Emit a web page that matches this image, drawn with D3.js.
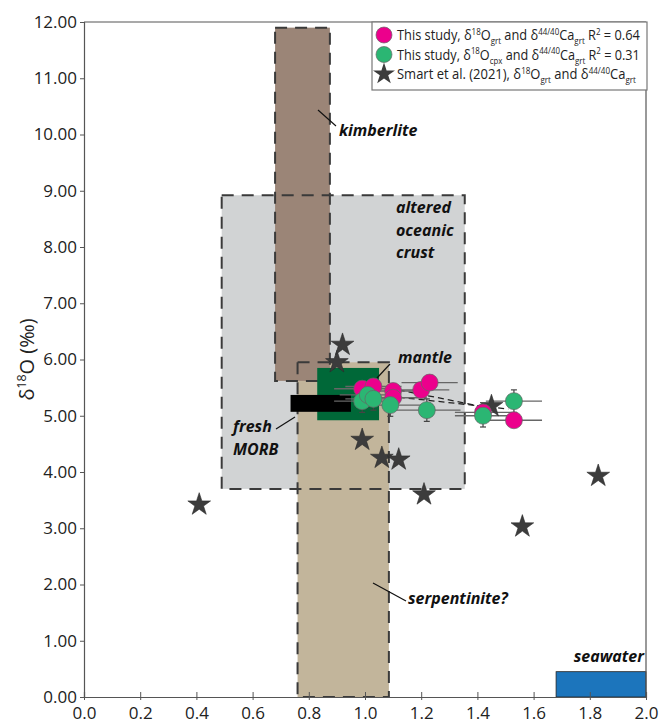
<!DOCTYPE html>
<html><head><meta charset="utf-8">
<script src="https://cdn.jsdelivr.net/npm/d3@7"></script>
<style>body{margin:0;background:#fff}svg{display:block}text{font-family:"Open Sans",sans-serif}</style>
</head><body><svg id="c" width="664" height="723"></svg>
<script>
// ---------- data ----------
const xTicks = [0.0,0.2,0.4,0.6,0.8,1.0,1.2,1.4,1.6,1.8,2.0];
const yTicks = [0,1,2,3,4,5,6,7,8,9,10,11,12];
// this study, garnet
const grtCa   = [0.99,1.03,1.10,1.10,1.20,1.23,1.42,1.53];
const grtO    = [5.48,5.52,5.44,5.32,5.46,5.59,5.06,4.92];
const grtCaErr= [0.10,0.10,0.12,0.12,0.10,0.10,0.10,0.10];
const grtOErr = [0.10,0.10,0.10,0.10,0.10,0.10,0.10,0.10];
// this study, clinopyroxene
const cpxCa   = [0.99,1.01,1.03,1.09,1.22,1.42,1.53];
const cpxO    = [5.26,5.37,5.30,5.19,5.10,5.00,5.26];
const cpxCaErr= [0.10,0.10,0.10,0.12,0.12,0.10,0.10];
const cpxOErr = [0.20,0.20,0.20,0.20,0.20,0.20,0.20];
// Smart et al. (2021)
const smartCa = [0.41,0.90,0.92,0.99,1.06,1.12,1.21,1.45,1.56,1.83];
const smartO  = [3.42,5.95,6.26,4.57,4.25,4.22,3.60,5.17,3.03,3.93];
// tie lines (Ca, O)
const tieLines = [[[1.12,5.46],[1.42,5.16]],[[1.12,5.33],[1.51,5.12]]];
// reference fields [x0,x1,y0,y1]
const fieldNames = ["altered oceanic crust","serpentinite?","kimberlite","mantle","fresh MORB","seawater"];
const fieldBounds = [[0.49,1.355,3.7,8.92],[0.76,1.085,0,5.95],[0.68,0.875,5.62,11.9],[0.83,1.05,4.92,5.85],[0.735,0.95,5.07,5.37],[1.68,2.0,0,0.45]];

// ---------- layout ----------
const svg = d3.select("#c");
const L=84,R=646,T=22,B=697;
const x = d3.scaleLinear().domain([0,2]).range([L,R]);
const y = d3.scaleLinear().domain([0,12]).range([B,T]);
const fieldFill = ["#d1d3d4","#c2b59b","#9b8577","#006838","#000000","#1c75bc"];
const fieldDashed = [true,true,true,false,false,false];

const g = svg.append("g");
fieldBounds.forEach((b,i)=>{
  g.append("rect").attr("x",x(b[0])).attr("y",y(b[3])).attr("width",x(b[1])-x(b[0])).attr("height",y(b[2])-y(b[3]))
   .attr("fill",fieldFill[i]).attr("stroke",i===5?"#222":"none").attr("stroke-width",0.8);
  if(i===2){
    [0,1,2].forEach(j=>{const c=fieldBounds[j];
      g.append("rect").attr("x",x(c[0])).attr("y",y(c[3])).attr("width",x(c[1])-x(c[0])).attr("height",y(c[2])-y(c[3]))
       .attr("fill","none").attr("stroke","#3a3a3a").attr("stroke-width",2).attr("stroke-dasharray","12,8");});
  }
});

// axes frame
g.append("line").attr("x1",L).attr("x2",R).attr("y1",T).attr("y2",T).attr("stroke","#555").attr("stroke-width",1.2);
g.append("line").attr("x1",R).attr("x2",R).attr("y1",T).attr("y2",B).attr("stroke","#555").attr("stroke-width",1.2);
const yAxis = svg.append("g").attr("transform",`translate(${L},0)`)
  .call(d3.axisLeft(y).tickValues(yTicks).tickFormat(d3.format(".2f")).tickSize(4).tickPadding(3));
const xAxis = svg.append("g").attr("transform",`translate(0,${B})`)
  .call(d3.axisBottom(x).tickValues(xTicks).tickFormat(d3.format(".1f")).tickSize(-5).tickPadding(10));
[yAxis,xAxis].forEach(a=>{a.select(".domain").attr("stroke","#555").attr("stroke-width",1.2);
  a.selectAll(".tick line").attr("stroke","#555");
  a.selectAll("text").attr("font-size",17).attr("fill","#222").style("font-family","Open Sans");});
xAxis.selectAll(".tick line").attr("y2",-5).attr("y1",3);

function rich(sel, segs, size){
  let off=0;
  segs.forEach(s=>{
    let target = s.sup? -0.38*size : s.sub? 0.3*size : 0;
    sel.append("tspan").attr("dy",target-off).attr("font-size",(s.sup||s.sub)?size*0.62:size).text(s.t);
    off=target;
  });
}

// y label
const yl = svg.append("text").attr("transform",`translate(34,${(T+B)/2}) rotate(-90)`).attr("text-anchor","middle").attr("fill","#222").attr("font-size",20);
rich(yl,[{t:"δ"},{t:"18",sup:1},{t:"O (‰)"}],20);

tieLines.forEach(l=>{
  g.append("line").attr("x1",x(l[0][0])).attr("y1",y(l[0][1])).attr("x2",x(l[1][0])).attr("y2",y(l[1][1]))
   .attr("stroke","#222").attr("stroke-width",1.3).attr("stroke-dasharray","6,4");
});

function errbars(X,Y,XE,YE){
  X.forEach((v,i)=>{
    g.append("line").attr("x1",x(v-XE[i])).attr("x2",x(v+XE[i])).attr("y1",y(Y[i])).attr("y2",y(Y[i])).attr("stroke","#666").attr("stroke-width",1.3);
    g.append("line").attr("x1",x(v)).attr("x2",x(v)).attr("y1",y(Y[i]-YE[i])).attr("y2",y(Y[i]+YE[i])).attr("stroke","#444").attr("stroke-width",1.2);
    [-1,1].forEach(s=>g.append("line").attr("x1",x(v)-3).attr("x2",x(v)+3).attr("y1",y(Y[i]+s*YE[i])).attr("y2",y(Y[i]+s*YE[i])).attr("stroke","#444").attr("stroke-width",1.2));
  });
}
errbars(grtCa,grtO,grtCaErr,grtOErr);
errbars(cpxCa,cpxO,cpxCaErr,cpxOErr);

const star = d3.symbol().type(d3.symbolStar).size(160);
smartCa.forEach((v,i)=>g.append("path").attr("d",star()).attr("transform",`translate(${x(v)},${y(smartO[i])})`).attr("fill","#3c3c3c").attr("stroke","#2a2a2a").attr("stroke-width",0.6));
grtCa.forEach((v,i)=>g.append("circle").attr("cx",x(v)).attr("cy",y(grtO[i])).attr("r",8.5).attr("fill","#ec008c").attr("stroke","#666").attr("stroke-width",0.7));
cpxCa.forEach((v,i)=>g.append("circle").attr("cx",x(v)).attr("cy",y(cpxO[i])).attr("r",8.5).attr("fill","#2bb673").attr("stroke","#666").attr("stroke-width",0.7));

function lab(lines,px,py,anchor){
  const t=svg.append("text").attr("font-size",16).attr("font-weight","bold").attr("font-style","italic").attr("fill","#111").attr("text-anchor",anchor||"start");
  lines.forEach((s,i)=>t.append("tspan").attr("x",px).attr("y",py+i*22.5).text(s));
}
function leader(x1,y1,x2,y2){svg.append("line").attr("x1",x1).attr("y1",y1).attr("x2",x2).attr("y2",y2).attr("stroke","#111").attr("stroke-width",1.2);}
lab(["kimberlite"],339,136); leader(318,110,336,126);
lab(["altered","oceanic","crust"],396,213);
lab(["mantle"],398,363); leader(390,364,377,378);
lab(["fresh","MORB"],233,432); leader(276,429,295,417);
lab(["serpentinite?"],408,604); leader(373,583,406,601);
lab(["seawater"],644,662,"end");

// legend
const lg = svg.append("g");
lg.append("rect").attr("x",372).attr("y",T).attr("width",R-372+1).attr("height",68).attr("fill","#fff").attr("stroke","#777").attr("stroke-width",1.2);
const legRows=[
 {c:"#ec008c",w:243,segs:[{t:"This study, δ"},{t:"18",sup:1},{t:"O"},{t:"grt",sub:1},{t:" and δ"},{t:"44/40",sup:1},{t:"Ca"},{t:"grt",sub:1},{t:" R"},{t:"2",sup:1},{t:" = 0.64"}]},
 {c:"#2bb673",w:243,segs:[{t:"This study, δ"},{t:"18",sup:1},{t:"O"},{t:"cpx",sub:1},{t:" and δ"},{t:"44/40",sup:1},{t:"Ca"},{t:"grt",sub:1},{t:" R"},{t:"2",sup:1},{t:" = 0.31"}]},
 {c:null,w:239,segs:[{t:"Smart et al. (2021), δ"},{t:"18",sup:1},{t:"O"},{t:"grt",sub:1},{t:" and δ"},{t:"44/40",sup:1},{t:"Ca"},{t:"grt",sub:1}]}
];
legRows.forEach((r,i)=>{
  const cy=35+i*19.5;
  if(r.c) lg.append("circle").attr("cx",384).attr("cy",cy).attr("r",8).attr("fill",r.c).attr("stroke","#666").attr("stroke-width",0.7);
  else lg.append("path").attr("d",d3.symbol().type(d3.symbolStar).size(150)()).attr("transform",`translate(384,${cy})`).attr("fill","#3c3c3c");
  const tg=lg.append("g").attr("transform",`translate(397,${cy+5})`);
  const t=tg.append("text").attr("x",0).attr("y",0).attr("fill","#222").attr("font-size",14);
  rich(t,r.segs,14);
  const w=t.node().getBBox().width;
  tg.attr("transform",`translate(397,${cy+5}) scale(${r.w/w},1)`);
});
</script></body></html>
